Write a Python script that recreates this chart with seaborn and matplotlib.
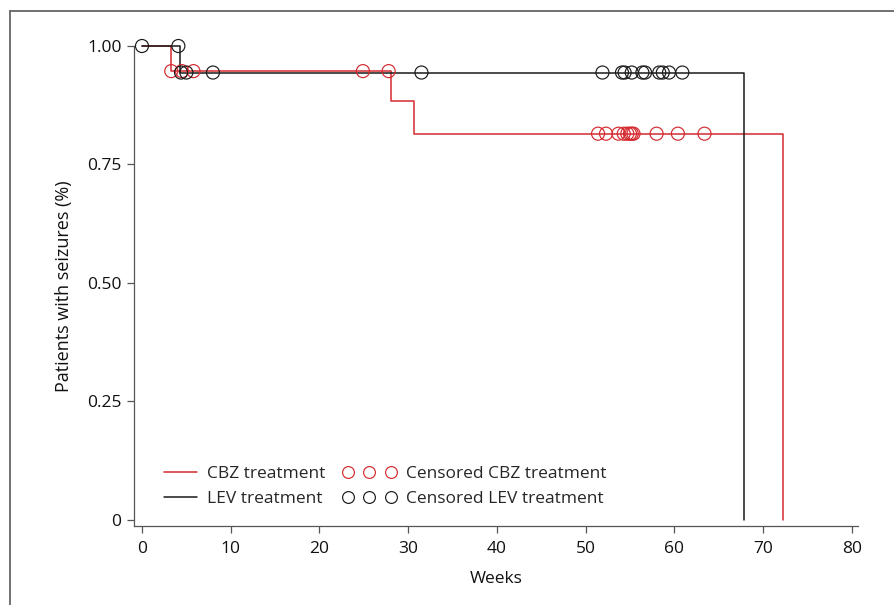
import numpy as np
import pandas as pd
import matplotlib
matplotlib.use("Agg")
import matplotlib.pyplot as plt
from matplotlib.lines import Line2D
from matplotlib.legend_handler import HandlerLine2D
import seaborn as sns

# ---- data ----
cbz_times = [0.0, 3.3, 28.1, 30.7, 72.2]
cbz_surv = [1.0, 0.947, 0.883, 0.815, 0.0]
lev_times = [0.0, 4.25, 67.9]
lev_surv = [1.0, 0.944, 0.0]

cbz_cens_t = [3.3, 4.5, 5.8, 24.9, 27.8,
              51.4, 52.3, 53.7, 54.3, 54.7, 55.0, 55.2, 55.4, 58.0, 60.4, 63.4]
cbz_cens_s = [0.947] * 5 + [0.815] * 11
lev_cens_t = [0.0, 4.1,
              4.4, 5.0, 8.0, 31.5, 51.9, 54.1, 54.4, 55.2, 56.4, 56.7, 58.3, 58.7, 59.4, 60.9]
lev_cens_s = [1.0, 1.0] + [0.944] * 14

x_ticks = [0, 10, 20, 30, 40, 50, 60, 70, 80]
y_ticks = [0, 0.25, 0.50, 0.75, 1.00]
y_tick_labels = ["0", "0.25", "0.50", "0.75", "1.00"]
labels = ["CBZ treatment", "LEV treatment", "Censored CBZ treatment", "Censored LEV treatment"]

RED = "#d42a2f"
BLACK = "#1a1a1a"
AXC = "#555555"
TXT = "#111111"
FS = 12.5

sns.set_style("ticks")
plt.rcParams["font.family"] = ["Open Sans", "DejaVu Sans"]

fig = plt.figure(figsize=(8.95, 6.05), dpi=100)
ax = fig.add_axes([134 / 895, 1 - 526 / 605, (858 - 134) / 895, (526 - 46) / 605])

cbz_df = pd.DataFrame({"t": cbz_times, "s": cbz_surv})
lev_df = pd.DataFrame({"t": lev_times, "s": lev_surv})
sns.lineplot(data=cbz_df, x="t", y="s", drawstyle="steps-post", color=RED, lw=1.1,
             estimator=None, sort=False, ax=ax, legend=False, clip_on=False)
sns.lineplot(data=lev_df, x="t", y="s", drawstyle="steps-post", color=BLACK, lw=1.1,
             estimator=None, sort=False, ax=ax, legend=False, clip_on=False)

for t, s, c in [(cbz_cens_t, cbz_cens_s, RED), (lev_cens_t, lev_cens_s, BLACK)]:
    sns.scatterplot(x=t, y=s, color=c, s=88, marker="o", ax=ax, legend=False,
                    clip_on=False, zorder=3)
    pts = ax.collections[-1]
    pts.set_facecolor("none")
    pts.set_edgecolor(c)
    pts.set_linewidth(0.85)

ax.set_xlim(-0.9, 80.7)
ax.set_ylim(-0.0127, 1.0)
ax.set_xticks(x_ticks)
ax.set_xticklabels([str(v) for v in x_ticks])
ax.set_yticks(y_ticks)
ax.set_yticklabels(y_tick_labels)
ax.tick_params(axis="both", direction="out", length=5, width=0.9, color=AXC,
               labelsize=FS, labelcolor=TXT, pad=4)
ax.tick_params(axis="x", pad=6)
for side in ["top", "right"]:
    ax.spines[side].set_visible(False)
for side in ["left", "bottom"]:
    ax.spines[side].set_color(AXC)
    ax.spines[side].set_linewidth(0.9)

ax.set_xlabel("Weeks", fontsize=FS, color=TXT, labelpad=10)
ax.set_ylabel("Patients with seizures (%)", fontsize=13, color=TXT, labelpad=10)


class ShortLine(HandlerLine2D):
    """Line legend handle drawn shorter and right-aligned in the handle box."""
    def create_artists(self, legend, orig_handle, xdescent, ydescent,
                       width, height, fontsize, trans):
        y = (height - ydescent) / 2
        x1 = -xdescent + width
        x0 = x1 - 0.62 * width
        line = Line2D([x0, x1], [y, y])
        self.update_prop(line, orig_handle, legend)
        line.set_transform(trans)
        return [line]


h_cbz = Line2D([], [], color=RED, lw=1.1)
h_lev = Line2D([], [], color=BLACK, lw=1.1)
h_ccbz = Line2D([], [], color=RED, lw=0, marker="o", markerfacecolor="none",
                markeredgecolor=RED, markersize=8.5, markeredgewidth=0.85)
h_clev = Line2D([], [], color=BLACK, lw=0, marker="o", markerfacecolor="none",
                markeredgecolor=BLACK, markersize=8.5, markeredgewidth=0.85)
handles = [h_cbz, h_lev, h_ccbz, h_clev]
ax.legend(handles, labels, ncol=2, numpoints=3, frameon=False, fontsize=FS,
          loc="lower left", bbox_to_anchor=(-0.004, 0.014), handlelength=3.1,
          handletextpad=0.55, columnspacing=1.0, labelspacing=0.5, borderpad=0.2,
          handler_map={h_cbz: ShortLine(), h_lev: ShortLine()})

# outer frame (top and left edges)
fig.add_artist(Line2D([10 / 895, 1.0], [1 - 11 / 605, 1 - 11 / 605],
                      transform=fig.transFigure, color="#666666", lw=1.3))
fig.add_artist(Line2D([10 / 895, 10 / 895], [0.0, 1 - 11 / 605],
                      transform=fig.transFigure, color="#666666", lw=1.3))

fig.savefig("out.png", dpi=100)
